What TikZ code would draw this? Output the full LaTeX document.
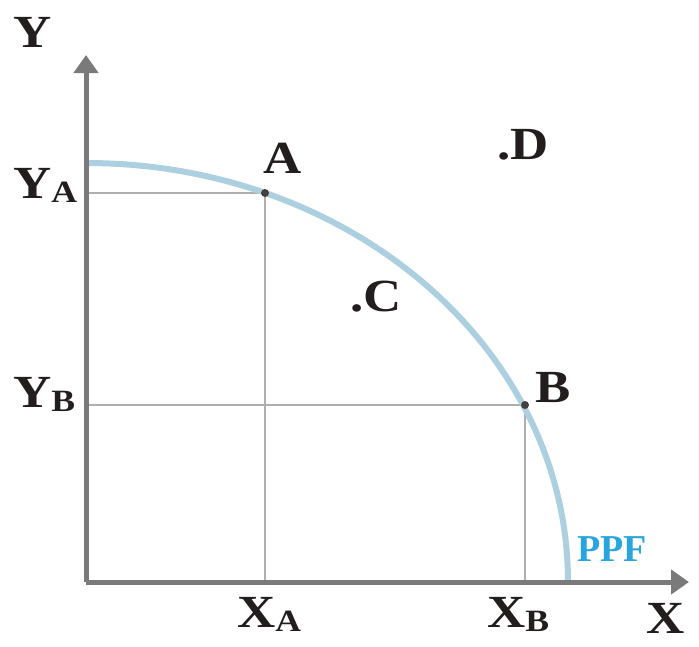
\documentclass[tikz,border=0pt]{standalone}
\usepackage{fontspec}
\setmainfont{Liberation Serif}
\usetikzlibrary{arrows.meta}
\definecolor{axisgray}{RGB}{122,122,122}
\definecolor{guidegray}{RGB}{175,175,175}
\definecolor{ppfblue}{RGB}{172,208,224}
\definecolor{ppftext}{RGB}{40,165,220}
\definecolor{labelcol}{RGB}{35,30,30}
\newcommand{\mysub}[1]{\raisebox{-4pt}{\fontsize{31}{31}\selectfont #1}}
\newcommand{\wide}[1]{\scalebox{1.15}[1]{#1}}
\tikzset{
  axisline/.style={draw=axisgray, line width=5pt, -{Triangle[length=18pt,width=24pt]}},
  guide/.style={draw=guidegray, line width=1.8pt},
  ppfcurve/.style={draw=ppfblue, line width=6pt},
  lbl/.style={font=\bfseries\fontsize{46}{46}\selectfont, text=labelcol, inner sep=0pt, anchor=base west},
  dotpt/.style={circle, fill=labelcol!85, inner sep=0pt, minimum size=8pt},
}
\begin{document}
\begin{tikzpicture}[x=1pt,y=-1pt]
\useasboundingbox[fill=white] (0,0) rectangle (699,646);
% coordinates
\coordinate (O) at (86,582);
\coordinate (ytop) at (86,55);
\coordinate (xend) at (689,582);
\coordinate (pA) at (265,193);
\coordinate (pB) at (525,405);
\coordinate (yA) at (86,193);
\coordinate (yB) at (86,405);
\coordinate (xA) at (265,582);
\coordinate (xB) at (525,582);
% guides
\draw[guide] (yA) -- (pA) -- (xA);
\draw[guide] (yB) -- (pB) -- (xB);
% PPF curve: quarter ellipse centred at O
\draw[ppfcurve] (86,163) arc[start angle=90, end angle=0, x radius=482, y radius=-419];
% axes
\draw[axisline] (O) -- (ytop);
\draw[axisline] (O) -- (xend);
% points
\node[dotpt] (A) at (pA) {};
\node[dotpt] (B) at (pB) {};
% labels
\node[lbl] (Ylab) at (13,47) {\wide{Y}};
\node[lbl] (YAlab) at (13,198) {\wide{Y\mysub{A}}};
\node[lbl] (YBlab) at (13,407) {\wide{Y\mysub{B}}};
\node[lbl] (XAlab) at (237,627) {\wide{X\mysub{A}}};
\node[lbl] (XBlab) at (487,627) {\wide{X\mysub{B}}};
\node[lbl] (Xlab) at (646,633) {\wide{X}};
\node[lbl] (Alab) at (263,173) {\wide{A}};
\node[lbl] (Blab) at (535,402) {\wide{B}};
\node[lbl] (Clab) at (350,311) {\wide{.C}};
\node[lbl] (Dlab) at (497,159) {\wide{.D}};
\node[lbl, text=ppftext, font=\bfseries\fontsize{38}{38}\selectfont] (ppf) at (577,561) {PPF};
\end{tikzpicture}
\end{document}
